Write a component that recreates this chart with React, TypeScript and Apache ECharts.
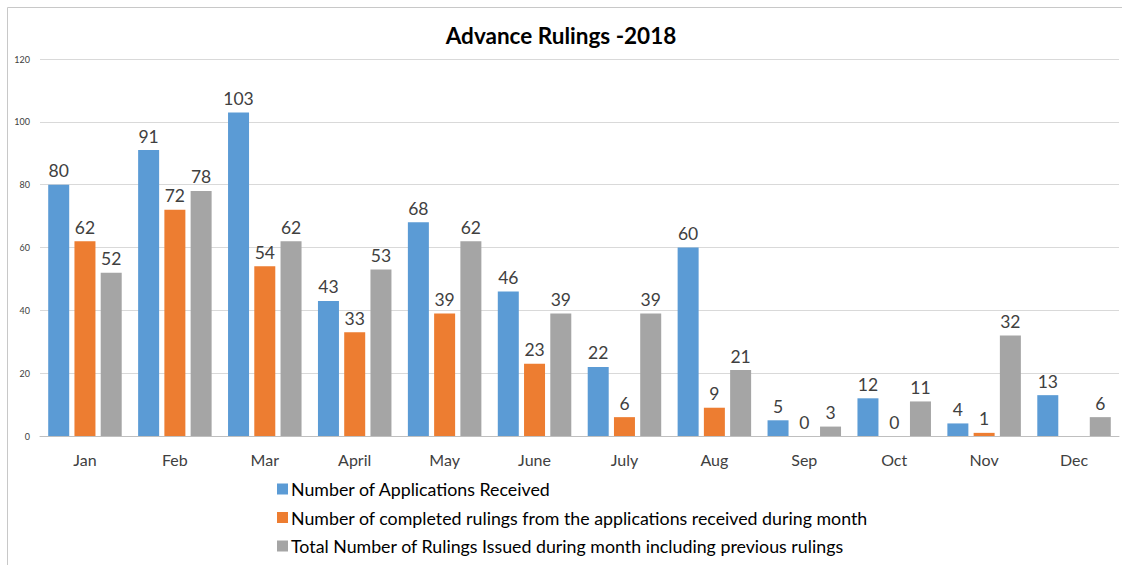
import React, { useEffect, useRef } from "react";
import * as echarts from "echarts";

const months = ["Jan", "Feb", "Mar", "April", "May", "June", "July", "Aug", "Sep", "Oct", "Nov", "Dec"];
const received = [80, 91, 103, 43, 68, 46, 22, 60, 5, 12, 4, 13];
const completed: (number | null)[] = [62, 72, 54, 33, 39, 23, 6, 9, 0, 0, 1, null];
const issued = [52, 78, 62, 53, 62, 39, 39, 21, 3, 11, 32, 6];
const seriesNames = [
  "Number of Applications Received",
  "Number of completed rulings from the applications received during month",
  "Total Number of Rulings Issued during month including previous rulings",
];
const colors = ["#5B9BD5", "#ED7D31", "#A5A5A5"];

const FONT = "Lato, 'Open Sans', sans-serif";

export default function App() {
  const ref = useRef<HTMLDivElement>(null);
  useEffect(() => {
    if (!ref.current) return;
    const chart = echarts.init(ref.current, undefined, { renderer: "svg" });
    const label = {
      show: true,
      position: "top" as const,
      distance: 5,
      fontSize: 17.5,
      color: "#404040",
      fontFamily: FONT,
    };
    const mk = (i: number, data: (number | null)[]) => ({
      name: seriesNames[i],
      type: "bar" as const,
      data: data.map((v) => (v === null ? "-" : v)),
      barWidth: 21,
      barGap: "25%",
      itemStyle: { color: colors[i] },
      label,
    });
    chart.setOption({
      animation: false,
      textStyle: { fontFamily: FONT },
      title: {
        text: "Advance Rulings -2018",
        left: "center",
        top: 19,
        textStyle: { fontSize: 22.5, fontWeight: "bold", color: "#000", fontFamily: FONT },
      },
      graphic: [
        {
          type: "rect",
          shape: { x: 7.5, y: 7.5, width: 1130, height: 570 },
          style: { fill: "none", stroke: "#C8C8C8", lineWidth: 1 },
          silent: true,
        },
      ],
      legend: {
        orient: "vertical",
        left: 272,
        top: 475,
        itemWidth: 11,
        itemHeight: 11,
        itemGap: 10.5,
        icon: "rect",
        textStyle: { fontSize: 17.8, color: "#000", fontFamily: FONT, padding: [0, 0, 0, -2] },
        data: seriesNames,
      },
      grid: { left: 40, right: 3, top: 59, bottom: 129, containLabel: false },
      xAxis: {
        type: "category",
        data: months,
        axisLine: { lineStyle: { color: "#BFBFBF" } },
        axisTick: { show: false },
        axisLabel: { fontSize: 16, color: "#404040", margin: 15, fontFamily: FONT },
      },
      yAxis: {
        type: "value",
        min: 0,
        max: 120,
        interval: 20,
        axisLine: { show: false },
        axisTick: { show: false },
        splitLine: { lineStyle: { color: "#D9D9D9" } },
        axisLabel: { fontSize: 9, color: "#404040", margin: 10, fontFamily: FONT },
      },
      series: [mk(0, received), mk(1, completed), mk(2, issued)],
    });
    return () => chart.dispose();
  }, []);
  return (
    <div
      ref={ref}
      style={{ position: "fixed", left: 0, top: 0, width: 1122, height: 565, background: "#fff" }}
    />
  );
}
